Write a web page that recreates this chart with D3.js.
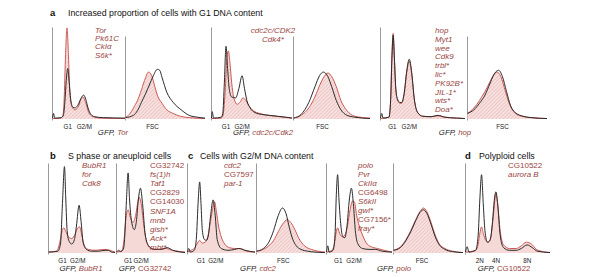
<!DOCTYPE html>
<html><head><meta charset="utf-8">
<script src="https://cdn.jsdelivr.net/npm/d3@7"></script>
<style>
body{margin:0;background:#fff}
svg{display:block}
text{font-family:"Liberation Sans",Arial,Helvetica,sans-serif}
</style></head>
<body><svg id="c" width="600" height="277"></svg>
<script>
// ---- data: [channel (0-100), relative cell count (0-100)] ----
const a1DnaCtrl = [[0,1],[1.5,6],[3,1],[12,1.5],[15,4],[17,18],[19,42],[21,55],[23,40],[25,22],[28,13],[31,12],[35,15],[39,22],[43,26],[46,21],[49,12],[53,5],[58,2.5],[70,1.5],[100,1]];
const a1DnaKd   = [[0,0.5],[10,0.5],[14,3],[16,20],[18,70],[20,99],[22,70],[24,28],[27,13],[31,10],[36,14],[39,21],[42,24],[46,17],[50,7],[55,3],[65,1],[100,0.5]];
const a1FscCtrl = [[0,1.5],[10,4],[15,9],[20,18],[25,27],[30,37],[35,47],[40,54],[43,53],[46,45],[52,29],[60,18],[70,10],[80,4],[90,2],[100,1]];
const a1FscKd   = [[0,2],[5,5],[10,12],[15,20],[19,29],[24,42],[29,51],[33,47],[37,35],[40,26],[46,17],[52,10],[60,6],[69,3],[80,1.5],[100,0.5]];

const a2DnaCtrl = [[0,1],[1,8],[2.5,1],[12,2],[14,6],[16,40],[18,79],[20,55],[22,33],[25,24],[30,23],[34,33],[38,47],[41,33],[44,20],[48,12],[54,7],[62,5],[72,4],[82,3],[92,2],[100,1]];
const a2DnaKd   = [[0,0.5],[12,1],[14,3],[17,30],[19,65],[21,74],[23,60],[25,40],[28,22],[32,16],[36,19],[39,23],[42,21],[46,15],[52,9],[60,6],[70,4],[80,3],[90,2],[100,1]];
const a2FscCtrl = [[0,1],[10,5],[20,18],[28,35],[34,47],[39,51],[45,46],[50,35],[56,20],[62,10],[70,4],[80,2],[100,0.5]];
const a2FscKd   = [[0,1],[10,4],[20,12],[28,24],[35,38],[40,46],[45,50],[50,46],[56,35],[62,20],[70,9],[80,3],[100,1]];

const a3DnaCtrl = [[0,1],[1.5,6],[3,1],[10,2],[12,20],[13.5,65],[15,91],[16.5,65],[18,35],[20,22],[23,18],[25,18],[28,28],[31,52],[34,65],[37,50],[40,22],[44,7],[50,3],[60,2.5],[68,4],[76,2],[90,1],[100,0.5]];
const a3DnaKd   = [[0,0.5],[10,2],[12,22],[13.5,70],[15,93],[16.5,65],[18,33],[20,21],[23,17],[25,17],[28,27],[31,50],[34,63],[37,48],[40,21],[44,7],[50,3],[60,2.5],[68,3.5],[76,2],[90,1],[100,0.5]];
const a3FscCtrl = [[0,6],[8,10],[15,17],[22,26],[28,38],[33,48],[39,53],[44,46],[49,30],[54,15],[60,7],[70,3],[80,1.5],[100,0.5]];
const a3FscKd   = [[0,6],[8,12],[15,20],[22,30],[28,40],[33,48],[37,51],[42,46],[47,32],[52,18],[58,8],[68,3],[80,1.5],[100,0.5]];

const b1DnaCtrl = [[0,1],[14,2],[18,10],[21,55],[24,96],[26,60],[28,25],[31,13],[35,10],[39,15],[42,30],[46,53],[49,35],[52,12],[57,4],[65,2],[75,2],[85,3],[90,3],[95,1],[100,0.5]];
const b1DnaKd   = [[0,1],[12,2],[17,12],[21,26],[23,28],[26,24],[30,18],[35,16],[40,21],[44,28],[47,29],[50,20],[54,8],[60,4],[70,3],[85,4],[92,3],[100,1]];
const b2DnaCtrl = [[0,1],[3,3],[6,1.5],[9,3],[11,8],[14,50],[17,89],[19,60],[22,35],[26,26],[29,35],[32,60],[35,72],[38,55],[42,20],[47,8],[55,4],[65,4],[74,6],[82,3],[90,1.5],[100,0.5]];
const b2DnaKd   = [[0,1],[8,3],[11,15],[14,40],[17,48],[20,40],[24,34],[28,42],[31,56],[33,62],[36,55],[40,30],[44,12],[50,5],[60,4],[72,5],[82,3],[100,1]];

const c1DnaCtrl = [[0,1],[2,5],[4,1],[10,3],[13,15],[16,60],[18,79],[20,55],[22,25],[25,15],[28,14],[31,20],[34,40],[38,59],[41,42],[44,15],[50,5],[60,3],[70,4],[76,5],[85,3],[100,1]];
const c1DnaKd   = [[0,1],[5,3],[10,5],[14,10],[18,14],[22,11],[26,12],[30,18],[34,35],[38,52],[40,57],[43,45],[46,30],[50,18],[55,10],[62,6],[70,5],[78,5],[88,2],[100,1]];
const c1FscCtrl = [[0,2],[10,5],[18,12],[25,25],[31,40],[38,50],[43,44],[48,28],[53,15],[58,8],[65,4],[75,2],[85,1],[100,0.5]];
const c1FscKd   = [[0,2],[10,4],[18,8],[25,14],[32,24],[38,32],[45,37],[50,34],[56,26],[62,16],[70,8],[80,4],[90,2],[100,1]];

const c2DnaCtrl = [[0,1],[2,8],[4,1],[10,3],[13,20],[15,65],[17,87],[19,60],[22,30],[25,18],[28,17],[31,28],[35,60],[38,72],[41,55],[44,25],[48,10],[55,5],[65,4],[75,4],[85,2],[100,1]];
const c2DnaKd   = [[0,1],[8,3],[12,10],[15,24],[17,28],[20,22],[24,18],[28,20],[32,30],[36,48],[40,58],[43,56],[46,42],[50,30],[55,20],[60,12],[68,7],[78,5],[88,3],[100,1]];
const c2FscCtrl = [[0,3],[10,6],[18,14],[25,24],[32,36],[38,45],[43,48],[48,44],[54,32],[60,18],[66,9],[74,4],[85,1.5],[100,0.5]];
const c2FscKd   = [[0,3],[10,7],[18,15],[25,25],[32,37],[38,46],[43,50],[48,46],[54,34],[60,20],[66,10],[74,5],[85,2],[100,0.5]];

const dDnaCtrl  = [[0,1],[2,7],[4,1],[12,3],[15,20],[17,60],[19,87],[21,55],[23,25],[26,12],[29,14],[32,35],[34,58],[36,68],[38,55],[41,20],[45,6],[52,3],[60,3],[66,5],[73,9],[79,6],[85,2],[100,0.5]];
const dDnaKd    = [[0,1],[12,3],[15,10],[17,22],[19,29],[21,22],[24,14],[27,12],[30,18],[33,42],[36,66],[38,55],[41,25],[45,9],[52,5],[60,5],[66,8],[72,12],[78,10],[84,4],[92,1.5],[100,0.5]];

// ---- text ----
const sectionLetters = ["a","b","c","d"];
const sectionTitles = ["Increased proportion of cells with G1 DNA content","S phase or aneuploid cells","Cells with G2/M DNA content","Polyploid cells"];
const genesA1 = ["Tor","Pk61C","CkIα","S6k*"];
const genesA2 = ["cdc2c/CDK2","Cdk4*"];
const genesA3 = ["hop","Myt1","wee","Cdk9","trbl*","lic*","PK92B*","JIL-1*","wts*","Doa*"];
const genesB1 = ["BubR1","for","Cdk8"];
const genesB2 = ["CG32742","fs(1)h","Taf1","CG2829","CG14030","SNF1A","mnb","gish*","Ack*","mbt*"];
const genesC1 = ["cdc2","CG7597","par-1"];
const genesC2 = ["polo","Pvr","CkIIα","CG6498","S6kII","gwl*","CG7156*","fray*"];
const genesD  = ["CG10522","aurora B"];
const dnaTicks = ["G1","G2/M"];
const ploidyTicks = ["2N","4N","8N"];
const fscTick = ["FSC"];
const gfpGenes = ["Tor","cdc2c/Cdk2","hop","BubR1","CG32742","cdc2","polo","CG10522"];

// ---- layout ----
const RED = "#cf5a55", BLACK = "#2b2b2b", GENE = "#9a4542";
const rows = [{base:119, top:27}, {base:253, top:163}];
const panels = [
  {row:0,x0:52, x1:125,ctrl:a1DnaCtrl,kd:a1DnaKd,ticks:dnaTicks,tp:[21,44],hatch:true},
  {row:0,x0:125,x1:205,ctrl:a1FscCtrl,kd:a1FscKd,ticks:fscTick,tp:[34],hatch:true,fsc:true},
  {row:0,x0:211,x1:292,ctrl:a2DnaCtrl,kd:a2DnaKd,ticks:dnaTicks,tp:[18,38],hatch:true},
  {row:0,x0:293,x1:370,ctrl:a2FscCtrl,kd:a2FscKd,ticks:fscTick,tp:[38],hatch:true,fsc:true},
  {row:0,x0:380,x1:465,ctrl:a3DnaCtrl,kd:a3DnaKd,ticks:dnaTicks,tp:[14,34],hatch:true},
  {row:0,x0:467,x1:547,ctrl:a3FscCtrl,kd:a3FscKd,ticks:fscTick,tp:[44],hatch:true,fsc:true},
  {row:1,x0:48, x1:115,ctrl:b1DnaCtrl,kd:b1DnaKd,ticks:dnaTicks,tp:[21,44]},
  {row:1,x0:116,x1:185,ctrl:b2DnaCtrl,kd:b2DnaKd,ticks:dnaTicks,tp:[17,36]},
  {row:1,x0:187,x1:255,ctrl:c1DnaCtrl,kd:c1DnaKd,ticks:dnaTicks,tp:[20,42]},
  {row:1,x0:256,x1:325,ctrl:c1FscCtrl,kd:c1FscKd,ticks:fscTick,tp:[39],hatch:true,fsc:true},
  {row:1,x0:326,x1:392,ctrl:c2DnaCtrl,kd:c2DnaKd,ticks:dnaTicks,tp:[18,42]},
  {row:1,x0:393,x1:463,ctrl:c2FscCtrl,kd:c2FscKd,ticks:fscTick,tp:[41],hatch:true,fsc:true},
  {row:1,x0:465,x1:550,ctrl:dDnaCtrl,kd:dDnaKd,ticks:ploidyTicks,tp:[17,36,73]}
];
const geneBlocks = [
  {list:genesA1,x:95,y:33,dy:8.2,anchor:"start"},
  {list:genesA2,x:273,y:33,dy:8.5,anchor:"middle"},
  {list:genesA3,x:435,y:33,dy:8.8,anchor:"start"},
  {list:genesB1,x:82,y:168,dy:9.1,anchor:"start"},
  {list:genesB2,x:150,y:168,dy:9.1,anchor:"start"},
  {list:genesC1,x:224,y:168,dy:9.1,anchor:"start"},
  {list:genesC2,x:358,y:168,dy:9.0,anchor:"start"},
  {list:genesD,x:508,y:168,dy:9.1,anchor:"start"}
];
const gfpPos = [[113,135],[263,135],[455,135],[81,271],[145,271],[258,271],[394,271],[504,271]];
const titlePos = [[50,68,16],[50,68,159],[188,200,159],[465,479,159]];

const svg = d3.select("#c");
const defs = svg.append("defs");
const pat = defs.append("pattern").attr("id","hatch").attr("patternUnits","userSpaceOnUse")
  .attr("width",2.6).attr("height",2.6).attr("patternTransform","rotate(45)");
pat.append("rect").attr("width",2.6).attr("height",2.6).attr("fill","#f7e1e0");
pat.append("line").attr("x1",0).attr("y1",0).attr("x2",0).attr("y2",2.6).attr("stroke","#e3a9a6").attr("stroke-width",0.9);

const isUpright = g => /^CG\d/.test(g);

panels.forEach(p => {
  const r = rows[p.row];
  const x = d3.scaleLinear().domain([0,100]).range([p.x0+0.5, p.x1]);
  const y = d3.scaleLinear().domain([0,100]).range([r.base, r.top]);
  const g = svg.append("g");
  const axTop = p.fsc && p.row===0 ? 36 : r.top;
  const yAx = d3.scaleLinear().domain([0,1]).range([r.base+1, axTop]);
  const ax = g.append("g").attr("transform",`translate(${p.x0},0)`)
    .call(d3.axisLeft(yAx).ticks(0).tickSizeOuter(0));
  ax.select(".domain").attr("stroke","#9a9a9a").attr("stroke-width",1);
  const area = d3.area().x(d=>x(d[0])).y0(r.base).y1(d=>y(d[1])).curve(d3.curveMonotoneX);
  const line = d3.line().x(d=>x(d[0])).y(d=>y(d[1])).curve(d3.curveMonotoneX);
  g.append("path").datum(p.kd).attr("d",area).attr("fill", p.hatch ? "url(#hatch)" : "#f4d9d7");
  g.append("path").datum(p.kd).attr("d",line).attr("fill","none").attr("stroke",RED).attr("stroke-width",1);
  g.append("path").datum(p.ctrl).attr("d",line).attr("fill","none").attr("stroke",BLACK).attr("stroke-width",1);
  p.ticks.forEach((t,i) => {
    g.append("text").attr("x",x(p.tp[i])).attr("y",r.base+9.5).attr("text-anchor","middle")
      .attr("font-size",6.3).attr("fill","#222").text(t);
  });
});

geneBlocks.forEach(b => {
  b.list.forEach((gname,i) => {
    svg.append("text").attr("x",b.x).attr("y",b.y+i*b.dy).attr("text-anchor",b.anchor)
      .attr("font-size",8).attr("fill",GENE).attr("font-style",isUpright(gname)?"normal":"italic").text(gname);
  });
});

gfpGenes.forEach((gname,i) => {
  const t = svg.append("text").attr("x",gfpPos[i][0]).attr("y",gfpPos[i][1]).attr("text-anchor","middle").attr("font-size",7.8);
  t.append("tspan").attr("fill","#222").attr("font-style","italic").text("GFP, ");
  t.append("tspan").attr("fill",GENE).attr("font-style",isUpright(gname)?"normal":"italic").text(gname);
});

sectionLetters.forEach((l,i) => {
  svg.append("text").attr("x",titlePos[i][0]).attr("y",titlePos[i][2]).attr("font-size",9.5).attr("font-weight","bold").attr("fill","#111").text(l);
  svg.append("text").attr("x",titlePos[i][1]).attr("y",titlePos[i][2]).attr("font-size",8.8).attr("fill","#111").text(sectionTitles[i]);
});
</script></body></html>
